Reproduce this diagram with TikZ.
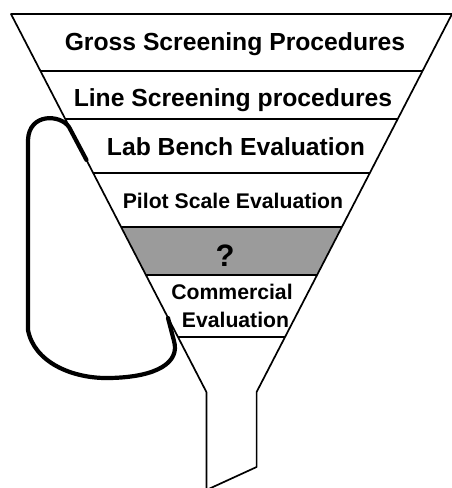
\documentclass[tikz,border=0pt]{standalone}
\usepackage{fontspec}
\setmainfont{Liberation Sans}
\usepackage{tikz}
\usetikzlibrary{arrows.meta}

\tikzset{
	stage/.style={anchor=base, font=\bfseries\fontsize{24.7}{26}\selectfont},
	small stage/.style={anchor=base, font=\bfseries\fontsize{21.2}{24}\selectfont},
	funnel line/.style={line width=1.7pt, line join=round},
	recycle/.style={line width=4.2pt, line cap=round, line join=round}
}

\begin{document}
\begin{tikzpicture}[x=1pt, y=-1pt]
	\useasboundingbox (0,0) rectangle (451,488);
	% funnel corners
	\coordinate (tl) at (11,14);
	\coordinate (tr) at (452,14);
	\coordinate (sl) at (206.4,392);
	\coordinate (sr) at (256.6,392);
	\coordinate (sb) at (256.6,467);
	\coordinate (bl) at (206.4,490);
	% unknown stage
	\fill[color={rgb,255:red,155;green,155;blue,155}] (121.1,227) -- (341.9,227) -- (317.1,275) -- (145.9,275) -- cycle;
	\draw[funnel line] (tl) -- (tr) -- (sr) -- (sb) -- (bl) -- (sl) -- cycle;
	\draw[funnel line] (40.5,71) -- (422.5,71);
	\draw[funnel line] (65.3,119) -- (397.7,119);
	\draw[funnel line] (93.2,173) -- (369.8,173);
	\draw[funnel line] (121.1,227) -- (341.9,227);
	\draw[funnel line] (145.9,275) -- (317.1,275);
	\draw[funnel line] (178,337) -- (285,337);
	% stage labels
	\node[stage] (gross) at (235,50) {Gross Screening Procedures};
	\node[stage] (line) at (233,106) {Line Screening procedures};
	\node[stage] (lab) at (236,155) {Lab Bench Evaluation};
	\node[small stage] (pilot) at (233,208) {Pilot Scale Evaluation};
	\node[anchor=base, font=\bfseries\fontsize{31}{32}\selectfont] (unknown) at (225,266) {?};
	\node[small stage] (commercial) at (232,299) {Commercial};
	\node[small stage] (evaluation) at (235.5,327) {Evaluation};
	% loop back from commercial to lab bench
	\coordinate (loop in) at (86.5,160);
	\coordinate (loop out) at (168,318);
	\draw[recycle] (loop in) -- (69,127) .. controls (60,114) and (29,113) .. (28,140)
		-- (28,330) .. controls (34,362) and (72,379) .. (110,378)
		.. controls (158,377) and (180,362) .. (174,341) -- (loop out);
\end{tikzpicture}
\end{document}
